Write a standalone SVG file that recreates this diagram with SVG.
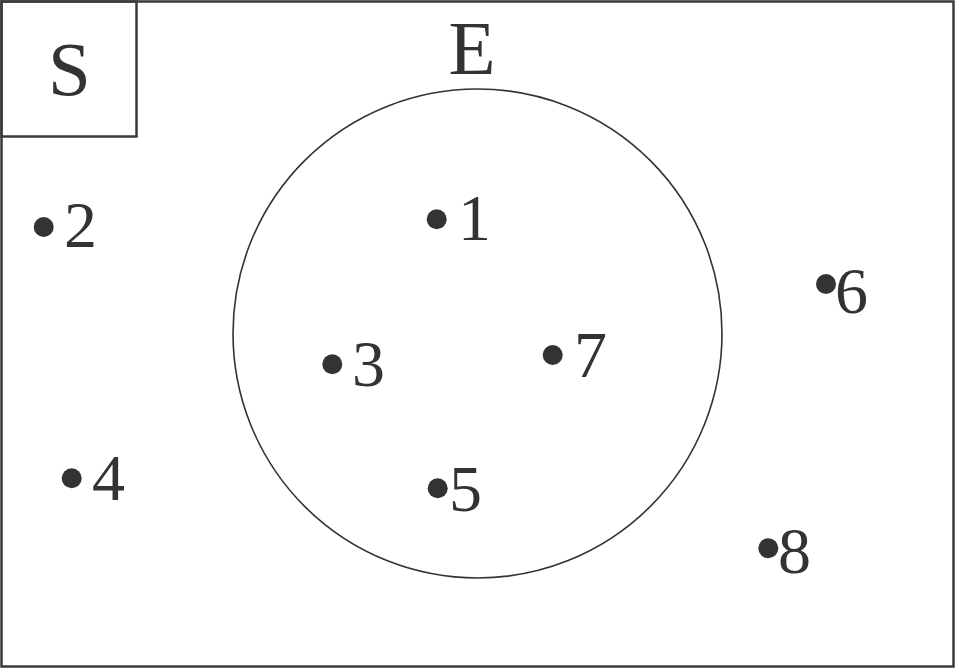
<svg xmlns="http://www.w3.org/2000/svg" width="956" height="669" viewBox="0 0 956 669">
<style>
.frame{fill:none;stroke:#3a3a3a;stroke-width:2.5}
.set{fill:none;stroke:#333333;stroke-width:1.6}
.dot{fill:#333333}
.lbl{font-family:"Liberation Serif","Times New Roman",serif;font-size:66px;fill:#333333}
.big{font-family:"Liberation Serif","Times New Roman",serif;font-size:77px;fill:#333333;text-anchor:middle}
</style>
<rect id="S-frame" class="frame" x="1.5" y="1.5" width="952" height="665"/>
<g id="S-label">
<rect class="frame" x="1.5" y="1.5" width="135" height="135"/>
<text class="big" x="69.5" y="95">S</text>
</g>
<g id="E">
<circle class="set" cx="477.5" cy="333.5" r="244.5"/>
<text class="big" x="472" y="74">E</text>
</g>
<g id="p1"><circle class="dot" cx="436.7" cy="219.3" r="10"/><text class="lbl" x="458" y="240">1</text></g>
<g id="p2"><circle class="dot" cx="43.7" cy="227" r="10"/><text class="lbl" x="64" y="247">2</text></g>
<g id="p3"><circle class="dot" cx="332.3" cy="364.3" r="10"/><text class="lbl" x="352" y="386">3</text></g>
<g id="p4"><circle class="dot" cx="71.7" cy="478.3" r="10"/><text class="lbl" x="92" y="500">4</text></g>
<g id="p5"><circle class="dot" cx="437.7" cy="488.3" r="10"/><text class="lbl" x="449" y="511">5</text></g>
<g id="p6"><circle class="dot" cx="826" cy="284" r="10"/><text class="lbl" x="835" y="313">6</text></g>
<g id="p7"><circle class="dot" cx="552.7" cy="355" r="10"/><text class="lbl" x="574" y="377">7</text></g>
<g id="p8"><circle class="dot" cx="768.3" cy="548.3" r="10"/><text class="lbl" x="778" y="573">8</text></g>
<g id="connectors"></g>
</svg>
